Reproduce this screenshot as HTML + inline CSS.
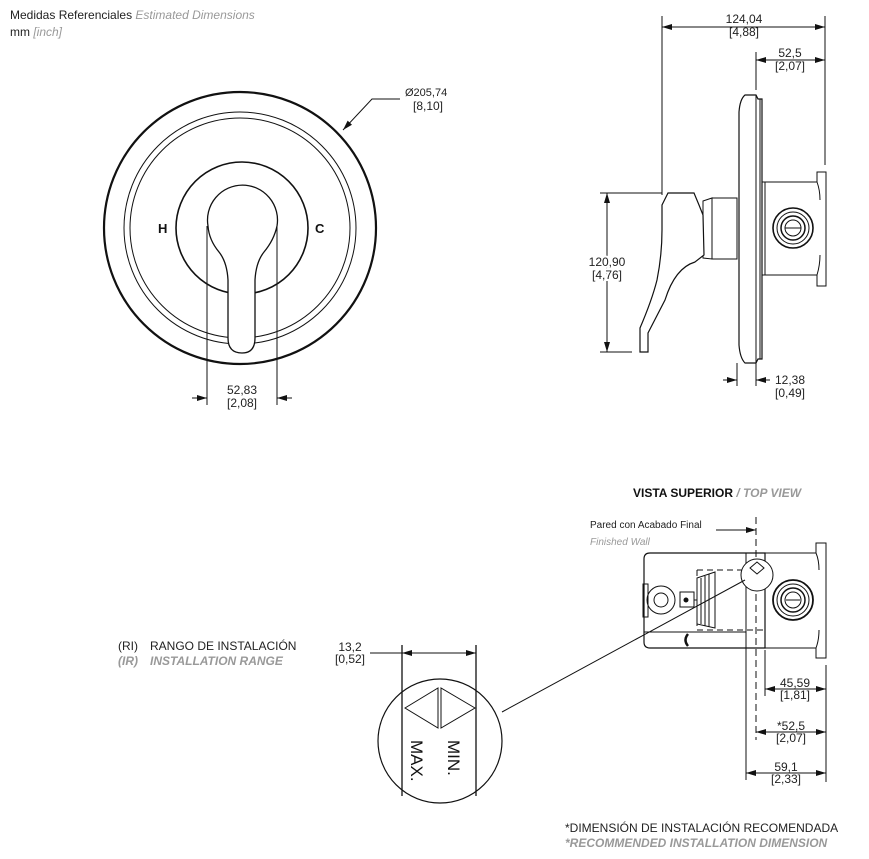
<!DOCTYPE html>
<html><head><meta charset="utf-8"><style>
html,body{margin:0;padding:0;background:#fff;}
svg{display:block;font-family:"Liberation Sans",sans-serif;}
.d{font-size:12px;fill:#222;text-anchor:middle;}
</style></head><body>
<svg width="869" height="859" viewBox="0 0 869 859" xmlns="http://www.w3.org/2000/svg">
<defs>
<marker id="a" markerWidth="10" markerHeight="6" refX="10" refY="3" orient="auto-start-reverse" markerUnits="userSpaceOnUse"><path d="M0,0 L10,3 L0,6 Z" fill="#111"/></marker>
</defs>
<text x="10" y="19" font-size="12" fill="#222">Medidas Referenciales <tspan fill="#999" font-style="italic">Estimated Dimensions</tspan></text>
<text x="10" y="36" font-size="12" fill="#222">mm <tspan fill="#999" font-style="italic">[inch]</tspan></text>

<g fill="none" stroke="#111" stroke-width="1">
<circle cx="240" cy="228" r="136" stroke-width="2.2"/>
<circle cx="240" cy="228" r="116"/>
<circle cx="240" cy="228" r="110"/>
<circle cx="242" cy="228" r="66" stroke-width="1.6"/>
<path d="M208,226 A35,35 0 1 1 277,226 Q274,240 264,252 Q256,262 255,280 L255,338 Q255,353 242,353 Q228,353 228,338 L228,280 Q227,262 219,252 Q209,240 208,226 Z" fill="#fff" stroke-width="1.3"/>
<line x1="207" y1="226" x2="207" y2="405"/>
<line x1="277" y1="226" x2="277" y2="405"/>
<line x1="192" y1="398" x2="207" y2="398" marker-end="url(#a)"/>
<line x1="292" y1="398" x2="277" y2="398" marker-end="url(#a)"/>
<polyline points="400,99 372,99 343,130" marker-end="url(#a)"/>

<line x1="662" y1="16" x2="662" y2="195"/>
<line x1="825" y1="16" x2="825" y2="165"/>
<line x1="662" y1="27" x2="825" y2="27" marker-start="url(#a)" marker-end="url(#a)"/>
<line x1="756" y1="52" x2="756" y2="90"/>
<line x1="756" y1="60" x2="825" y2="60" marker-start="url(#a)" marker-end="url(#a)"/>
<path d="M745,95 L756,95 L758,99 L762,99 L762,359 L758,359 L756,363 L745,363 Q740,358 739,345 L739,112 Q740,99 745,95 Z" stroke-width="1.2"/>
<line x1="756" y1="95" x2="756" y2="363"/>
<line x1="760" y1="99" x2="760" y2="359"/>
<rect x="762" y="182" width="3" height="93"/>
<path d="M765,182 L817,182 L817,172 L826,172 L826,286 L817,286 L817,275 L765,275 Z"/>
<path d="M817,182 Q820,190 820,200 M817,275 Q820,265 820,255"/>
<circle cx="793" cy="228" r="20" stroke-width="1.6"/>
<circle cx="793" cy="228" r="16"/>
<circle cx="793" cy="228" r="12" stroke-width="1.5"/>
<circle cx="793" cy="228" r="8"/>
<line x1="785" y1="228" x2="801" y2="228"/>
<path d="M712,198 L737,198 L737,259 L712,259 Z"/>
<path d="M703,201 L712,198 L712,259 L703,258 Z"/>
<path d="M668,193 L694,193 L699,205 L703,215 L704,255 L695,262 Q675,268 665,300 L648,333 L648,352 L640,352 L640,328 Q652,300 657,280 Q662,255 662,230 L662,205 Z" fill="#fff" stroke-width="1.2"/>
<line x1="600" y1="193" x2="662" y2="193"/>
<line x1="600" y1="352" x2="632" y2="352"/>
<line x1="607" y1="193" x2="607" y2="352" marker-start="url(#a)" marker-end="url(#a)"/>
<line x1="737" y1="363" x2="737" y2="386"/>
<line x1="756" y1="363" x2="756" y2="386"/>
<line x1="723" y1="380" x2="737" y2="380" marker-end="url(#a)"/>
<line x1="770" y1="380" x2="756" y2="380" marker-end="url(#a)"/>

<line x1="716" y1="530" x2="756" y2="530" marker-end="url(#a)"/>
<line x1="756" y1="517" x2="756" y2="740" stroke-dasharray="7,4"/>
<path d="M650,553 L765,553 L765,648 L650,648 Q644,648 644,642 L644,559 Q644,553 650,553 Z" stroke-width="1.2"/>
<line x1="746" y1="553" x2="746" y2="780"/>
<path d="M765,553 L816,553 L816,543 L826,543 L826,658 L816,658 L816,648 L765,648"/>
<path d="M816,553 Q819,560 819,570 M816,648 Q819,640 819,630"/>
<rect x="643" y="584" width="5" height="33"/>
<circle cx="661" cy="600" r="14"/>
<circle cx="661" cy="600" r="7"/>
<rect x="680" y="592" width="14" height="15"/>
<circle cx="686" cy="600" r="2" fill="#111"/>
<line x1="694" y1="600" x2="697" y2="600"/>
<path d="M697,570 L765,570 M697,630 L765,630 M697,570 L697,630" stroke-dasharray="6,4"/>
<path d="M715,572 L697,578 L697,624 L715,628 Z"/>
<line x1="701" y1="578" x2="701" y2="624"/><line x1="705" y1="576" x2="705" y2="626"/><line x1="709" y1="574" x2="709" y2="627"/>
<line x1="644" y1="632" x2="746" y2="632"/>
<path d="M688,634 Q683,640 688,646" stroke-width="2.5"/>
<circle cx="793" cy="600" r="20" stroke-width="1.8"/>
<circle cx="793" cy="600" r="16"/>
<circle cx="793" cy="600" r="12" stroke-width="1.5"/>
<circle cx="793" cy="600" r="8"/>
<line x1="786" y1="600" x2="800" y2="600"/>
<circle cx="757" cy="575" r="16" fill="#fff"/>
<path d="M750,568 L757,562 L764,568 L757,574 Z"/>
<line x1="765" y1="650" x2="765" y2="696"/>
<line x1="826" y1="665" x2="826" y2="782"/>
<line x1="765" y1="689" x2="826" y2="689" marker-start="url(#a)" marker-end="url(#a)"/>
<line x1="756" y1="732" x2="826" y2="732" marker-start="url(#a)" marker-end="url(#a)"/>
<line x1="746" y1="773" x2="826" y2="773" marker-start="url(#a)" marker-end="url(#a)"/>
<line x1="745" y1="580" x2="502" y2="712"/>

<circle cx="440" cy="741" r="62" stroke-width="1.2"/>
<line x1="402" y1="645" x2="402" y2="796" stroke-width="1.3"/>
<line x1="476" y1="645" x2="476" y2="796" stroke-width="1.3"/>
<line x1="370" y1="653" x2="402" y2="653"/>
<line x1="402" y1="653" x2="476" y2="653" marker-start="url(#a)" marker-end="url(#a)"/>
<path d="M405,708 L438,688 L438,728 Z M475,708 L441,688 L441,728 Z"/>
</g>

<text x="405" y="96" font-size="11" fill="#222">Ø205,74</text>
<text x="428" y="110" class="d">[8,10]</text>
<text x="158" y="233" font-size="13" font-weight="bold" fill="#111">H</text>
<text x="315" y="233" font-size="13" font-weight="bold" fill="#111">C</text>
<text x="242" y="394" class="d">52,83</text>
<text x="242" y="407" class="d">[2,08]</text>
<text x="744" y="23" class="d">124,04</text>
<text x="744" y="36" class="d">[4,88]</text>
<text x="790" y="57" class="d">52,5</text>
<text x="790" y="70" class="d">[2,07]</text>
<text x="607" y="266" class="d" style="paint-order:stroke" stroke="#fff" stroke-width="4">120,90</text>
<text x="607" y="279" class="d" style="paint-order:stroke" stroke="#fff" stroke-width="4">[4,76]</text>
<text x="790" y="384" class="d">12,38</text>
<text x="790" y="397" class="d">[0,49]</text>
<text x="633" y="497" font-size="12" font-weight="bold" fill="#111">VISTA SUPERIOR <tspan fill="#999" font-style="italic">/ TOP VIEW</tspan></text>
<text x="590" y="528" font-size="10" fill="#222">Pared con Acabado Final</text>
<text x="590" y="545" font-size="10" fill="#999" font-style="italic">Finished Wall</text>
<text x="795" y="687" class="d">45,59</text>
<text x="795" y="699" class="d">[1,81]</text>
<text x="791" y="730" class="d">*52,5</text>
<text x="791" y="742" class="d">[2,07]</text>
<text x="786" y="771" class="d">59,1</text>
<text x="786" y="783" class="d">[2,33]</text>
<text x="118" y="650" font-size="12" fill="#222">(RI)<tspan x="150">RANGO DE INSTALACIÓN</tspan></text>
<text x="118" y="665" font-size="12" fill="#999" font-style="italic" font-weight="bold">(IR)<tspan x="150">INSTALLATION RANGE</tspan></text>
<text x="350" y="651" class="d">13,2</text>
<text x="350" y="663" class="d">[0,52]</text>
<text transform="translate(411,740) rotate(90)" font-size="17" fill="#111">MAX.</text>
<text transform="translate(448,740) rotate(90)" font-size="17" fill="#111">MIN.</text>
<text x="565" y="832" font-size="12" fill="#222">*DIMENSIÓN DE INSTALACIÓN RECOMENDADA</text>
<text x="565" y="847" font-size="12" fill="#999" font-style="italic" font-weight="bold">*RECOMMENDED INSTALLATION DIMENSION</text>
</svg>
</body></html>
